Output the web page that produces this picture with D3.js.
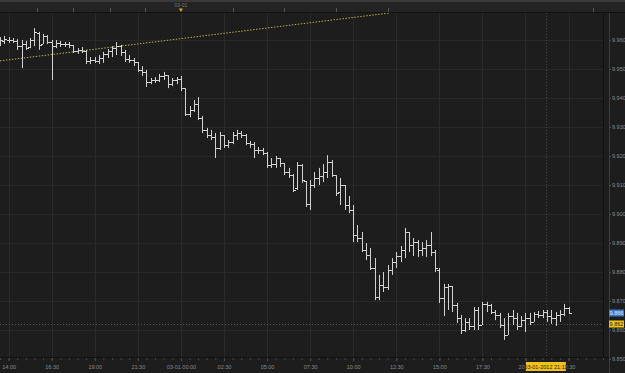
<!DOCTYPE html>
<html>
<head>
<meta charset="utf-8">
<script src="https://cdn.jsdelivr.net/npm/d3@7"></script>
<style>
body { margin: 0; background: #1d1d1d; }
svg { display: block; }
</style>
</head>
<body>
<div id="chart"></div>
<script>
var parseT = d3.timeParse("%Y-%m-%d %H:%M");

// 15 minute bars, first one at 13:30
var barStart = "2012-02-29 13:30";
var barMinutes = 15;

var highs = [9.9610,9.9614,9.9610,9.9607,9.9603,9.9600,9.9597,9.9607,9.9641,9.9628,9.9621,9.9617,9.9600,9.9600,9.9597,9.9593,9.9593,9.9583,9.9572,9.9576,
  9.9566,9.9541,9.9541,9.9548,9.9559,9.9569,9.9579,9.9593,9.9583,9.9566,9.9548,9.9538,9.9524,9.9510,9.9497,9.9469,9.9472,9.9483,9.9490,9.9479,
  9.9469,9.9472,9.9476,9.9434,9.9372,9.9393,9.9403,9.9338,9.9297,9.9290,9.9279,9.9283,9.9272,9.9255,9.9283,9.9290,9.9286,9.9276,9.9252,9.9248,
  9.9231,9.9228,9.9214,9.9193,9.9200,9.9193,9.9176,9.9159,9.9138,9.9179,9.9172,9.9114,9.9117,9.9145,9.9159,9.9172,9.9203,9.9186,9.9134,9.9124,
  9.9100,9.9062,9.9031,9.8962,9.8938,9.8900,9.8883,9.8848,9.8790,9.8800,9.8824,9.8848,9.8869,9.8890,9.8952,9.8938,9.8917,9.8910,9.8903,9.8910,
  9.8938,9.8876,9.8814,9.8759,9.8759,9.8752,9.8693,9.8652,9.8641,9.8641,9.8679,9.8679,9.8697,9.8697,9.8690,9.8669,9.8659,9.8641,9.8659,9.8669,
  9.8659,9.8648,9.8659,9.8659,9.8662,9.8666,9.8669,9.8669,9.8669,9.8662,9.8669,9.8690,9.8679];
var lows = [9.9579,9.9586,9.9590,9.9590,9.9566,9.9503,9.9566,9.9572,9.9579,9.9566,9.9586,9.9586,9.9462,9.9572,9.9576,9.9576,9.9572,9.9555,9.9552,9.9555,
  9.9517,9.9517,9.9521,9.9517,9.9521,9.9538,9.9541,9.9548,9.9545,9.9524,9.9521,9.9510,9.9490,9.9476,9.9438,9.9448,9.9452,9.9455,9.9462,9.9434,
  9.9441,9.9448,9.9424,9.9338,9.9334,9.9352,9.9324,9.9279,9.9262,9.9255,9.9193,9.9221,9.9228,9.9228,9.9241,9.9255,9.9262,9.9238,9.9228,9.9193,
  9.9207,9.9203,9.9159,9.9159,9.9159,9.9162,9.9134,9.9124,9.9076,9.9083,9.9107,9.9024,9.9014,9.9090,9.9100,9.9110,9.9124,9.9128,9.9062,9.9031,
  9.9014,9.9003,9.8903,9.8903,9.8869,9.8841,9.8807,9.8703,9.8703,9.8731,9.8738,9.8790,9.8814,9.8834,9.8848,9.8869,9.8855,9.8852,9.8855,9.8852,
  9.8855,9.8800,9.8693,9.8648,9.8669,9.8662,9.8624,9.8586,9.8593,9.8600,9.8600,9.8600,9.8617,9.8662,9.8655,9.8634,9.8607,9.8566,9.8583,9.8617,
  9.8600,9.8610,9.8593,9.8617,9.8628,9.8641,9.8641,9.8628,9.8621,9.8614,9.8628,9.8648,9.8655];
var opens = [9.9593,9.9597,9.9600,9.9600,9.9597,9.9579,9.9586,9.9576,9.9600,9.9624,9.9586,9.9614,9.9593,9.9579,9.9590,9.9586,9.9586,9.9583,9.9562,9.9566,
  9.9562,9.9528,9.9531,9.9528,9.9538,9.9552,9.9562,9.9572,9.9579,9.9559,9.9534,9.9531,9.9524,9.9497,9.9490,9.9455,9.9462,9.9462,9.9476,9.9479,
  9.9448,9.9462,9.9466,9.9434,9.9345,9.9359,9.9379,9.9331,9.9290,9.9272,9.9266,9.9228,9.9272,9.9238,9.9248,9.9272,9.9279,9.9272,9.9245,9.9241,
  9.9221,9.9221,9.9210,9.9169,9.9172,9.9193,9.9176,9.9145,9.9134,9.9090,9.9169,9.9114,9.9034,9.9100,9.9124,9.9131,9.9145,9.9179,9.9134,9.9076,
  9.9100,9.9031,9.9014,9.8928,9.8917,9.8876,9.8859,9.8814,9.8714,9.8755,9.8748,9.8807,9.8834,9.8855,9.8876,9.8938,9.8893,9.8903,9.8876,9.8883,
  9.8893,9.8869,9.8807,9.8710,9.8748,9.8752,9.8686,9.8641,9.8600,9.8628,9.8614,9.8669,9.8617,9.8690,9.8686,9.8662,9.8652,9.8617,9.8583,9.8648,
  9.8641,9.8614,9.8634,9.8641,9.8628,9.8655,9.8652,9.8662,9.8648,9.8641,9.8652,9.8655,9.8676];
var closes = [9.9600,9.9603,9.9600,9.9597,9.9579,9.9586,9.9572,9.9600,9.9628,9.9583,9.9614,9.9593,9.9579,9.9590,9.9586,9.9586,9.9583,9.9562,9.9566,9.9562,
  9.9528,9.9531,9.9528,9.9538,9.9552,9.9562,9.9572,9.9579,9.9559,9.9534,9.9531,9.9524,9.9497,9.9490,9.9455,9.9462,9.9462,9.9476,9.9479,9.9448,
  9.9462,9.9466,9.9434,9.9345,9.9359,9.9379,9.9331,9.9290,9.9272,9.9266,9.9228,9.9272,9.9238,9.9248,9.9272,9.9279,9.9272,9.9245,9.9241,9.9221,
  9.9221,9.9210,9.9169,9.9172,9.9193,9.9176,9.9145,9.9134,9.9083,9.9169,9.9117,9.9034,9.9100,9.9124,9.9131,9.9145,9.9179,9.9134,9.9072,9.9100,
  9.9031,9.9014,9.8928,9.8917,9.8876,9.8859,9.8814,9.8714,9.8755,9.8748,9.8807,9.8834,9.8855,9.8876,9.8938,9.8893,9.8903,9.8876,9.8883,9.8893,
  9.8869,9.8814,9.8710,9.8748,9.8752,9.8686,9.8641,9.8600,9.8628,9.8614,9.8669,9.8617,9.8690,9.8686,9.8662,9.8652,9.8617,9.8583,9.8648,9.8641,
  9.8614,9.8634,9.8641,9.8628,9.8655,9.8652,9.8662,9.8648,9.8641,9.8652,9.8655,9.8676,9.8660];

var xTicks = ["2012-02-29 14:00","2012-02-29 16:30","2012-02-29 19:00","2012-02-29 21:30","2012-03-01 00:00","2012-03-01 02:30","2012-03-01 05:00",
  "2012-03-01 07:30","2012-03-01 10:00","2012-03-01 12:30","2012-03-01 15:00","2012-03-01 17:30","2012-03-01 20:00","2012-03-01 22:30"];
var yTicks = [9.85,9.86,9.87,9.88,9.89,9.90,9.91,9.92,9.93,9.94,9.95,9.96];

// drawn trend line (dotted yellow)
var trendTimes = ["2012-02-29 13:30","2012-03-01 12:05"];
var trendPrices = [9.9528,9.9693];

// small markers on the top strip
var topMarks = ["2012-02-29 15:40","2012-02-29 17:45","2012-02-29 19:53","2012-02-29 21:55","2012-03-01 03:00",
  "2012-03-01 06:00","2012-03-01 09:00","2012-03-01 12:00","2012-03-01 23:55"];
var dayMark = "2012-03-01 00:00";

var lastPrice = 9.866;
var crossPrice = 9.862;
var crossTime = "2012-03-01 21:11";

var w = 625, h = 373;
var pl = 0, pr = 603, pt = 13, pb = 357;

var svg = d3.select("#chart").append("svg")
  .attr("width", w)
  .attr("height", h)
  .style("font-family", "'Liberation Sans', sans-serif");

svg.append("rect").attr("width", w).attr("height", h).attr("fill", "#1d1d1d");

var x = d3.scaleTime()
  .domain([parseT("2012-02-29 13:30"), parseT("2012-03-02 00:30")])
  .range([pl, pr]);
var y = d3.scaleLinear()
  .domain([9.85, 9.96])
  .range([359, 40]);

var bars = highs.map(function(d, i) {
  return {
    t: d3.timeMinute.offset(parseT(barStart), i * barMinutes),
    o: opens[i], h: highs[i], l: lows[i], c: closes[i]
  };
});

var cx = x(parseT(crossTime));

svg.append("clipPath").attr("id", "clip")
  .append("rect").attr("x", pl).attr("y", pt).attr("width", pr - pl).attr("height", pb - pt);

// x labels are hidden under the yellow time box, as in the original
var labClip = svg.append("clipPath").attr("id", "labclip");
labClip.append("rect").attr("x", 0).attr("y", 358).attr("width", cx - 20).attr("height", 15);
labClip.append("rect").attr("x", cx + 20).attr("y", 358).attr("width", w - cx - 20).attr("height", 15);

var plot = svg.append("g").attr("clip-path", "url(#clip)");

//grid
plot.selectAll(".vg").data(xTicks).enter().append("line")
  .attr("x1", function(d) { return Math.round(x(parseT(d))) + 0.5; })
  .attr("x2", function(d) { return Math.round(x(parseT(d))) + 0.5; })
  .attr("y1", pt).attr("y2", pb)
  .attr("stroke", "#2a2a2a");
plot.selectAll(".hg").data(yTicks).enter().append("line")
  .attr("x1", pl).attr("x2", pr)
  .attr("y1", function(d) { return Math.round(y(d)) + 0.5; })
  .attr("y2", function(d) { return Math.round(y(d)) + 0.5; })
  .attr("stroke", "#282828");

//crosshair
plot.append("line")
  .attr("x1", pl).attr("x2", pr)
  .attr("y1", Math.round(y(crossPrice)) + 0.5).attr("y2", Math.round(y(crossPrice)) + 0.5)
  .attr("stroke", "#555").attr("stroke-dasharray", "1,2");
plot.append("line")
  .attr("x1", Math.round(cx) + 0.5).attr("x2", Math.round(cx) + 0.5)
  .attr("y1", pt).attr("y2", pb)
  .attr("stroke", "#444").attr("stroke-dasharray", "1,2");

//trend line
plot.append("line")
  .attr("x1", x(parseT(trendTimes[0]))).attr("y1", y(trendPrices[0]))
  .attr("x2", x(parseT(trendTimes[1]))).attr("y2", y(trendPrices[1]))
  .attr("stroke", "#b4ae4e").attr("stroke-width", 1)
  .attr("stroke-dasharray", "1.5,1.5");

//ohlc bars
var bar = plot.selectAll(".bar").data(bars).enter().append("g").attr("class", "bar")
  .attr("stroke", "#d2d2d2").attr("stroke-width", 1);
bar.append("line")
  .attr("x1", function(d) { return Math.round(x(d.t)) + 0.5; })
  .attr("x2", function(d) { return Math.round(x(d.t)) + 0.5; })
  .attr("y1", function(d) { return y(d.h); })
  .attr("y2", function(d) { return y(d.l); });
bar.append("line")
  .attr("x1", function(d) { return Math.round(x(d.t)) - 2; })
  .attr("x2", function(d) { return Math.round(x(d.t)); })
  .attr("y1", function(d) { return Math.round(y(d.o)) + 0.5; })
  .attr("y2", function(d) { return Math.round(y(d.o)) + 0.5; });
bar.append("line")
  .attr("x1", function(d) { return Math.round(x(d.t)) + 1; })
  .attr("x2", function(d) { return Math.round(x(d.t)) + 3; })
  .attr("y1", function(d) { return Math.round(y(d.c)) + 0.5; })
  .attr("y2", function(d) { return Math.round(y(d.c)) + 0.5; });

//frame lines
svg.append("rect").attr("x", 0).attr("y", 0).attr("width", w).attr("height", 2).attr("fill", "#3a3a3a");
svg.append("rect").attr("x", 0).attr("y", 2).attr("width", w).attr("height", 10).attr("fill", "#232323");
svg.append("line").attr("x1", 0).attr("x2", w).attr("y1", 12.5).attr("y2", 12.5).attr("stroke", "#121212");
svg.append("line").attr("x1", 0).attr("x2", 609).attr("y1", 357.5).attr("y2", 357.5).attr("stroke", "#121212");
svg.append("line").attr("x1", 603.5).attr("x2", 603.5).attr("y1", 13).attr("y2", 358).attr("stroke", "#121212");
svg.append("line").attr("x1", 609.5).attr("x2", 609.5).attr("y1", 13).attr("y2", 373).attr("stroke", "#3c3c3c");

//top strip marks
svg.selectAll(".tm").data(topMarks).enter().append("line")
  .attr("x1", function(d) { return Math.round(x(parseT(d))) + 0.5; })
  .attr("x2", function(d) { return Math.round(x(parseT(d))) + 0.5; })
  .attr("y1", 8).attr("y2", 12)
  .attr("stroke", "#555");
var dx = x(parseT(dayMark));
svg.append("text").attr("x", dx).attr("y", 7)
  .attr("text-anchor", "middle").attr("font-size", "5px").attr("fill", "#7a7a7a")
  .text("03-01");
svg.append("path")
  .attr("d", "M" + (dx - 2) + ",8.5L" + (dx + 2) + ",8.5L" + dx + ",12Z")
  .attr("fill", "#d8a820");

//X axis
var fmtX = function(d) {
  return d.getHours() === 0 && d.getMinutes() === 0 ? d3.timeFormat("%m-%d %H:%M")(d) : d3.timeFormat("%H:%M")(d);
};
var xAxis = svg.append("g")
  .attr("transform", "translate(0,358)")
  .call(d3.axisBottom(x).tickValues(xTicks.map(parseT)).tickFormat(fmtX).tickSize(3).tickPadding(4));
xAxis.select(".domain").remove();
xAxis.selectAll("line").attr("stroke", "#555");
xAxis.selectAll("text").attr("fill", "#8a8a8a").attr("font-size", "5.5px").attr("font-family", "'Liberation Sans', sans-serif");
xAxis.selectAll(".tick")
  .filter(function(d) { return Math.abs(x(d) - cx) < 40; })
  .select("text")
  .attr("clip-path", function(d) { return "url(#labclip)"; })
  .attr("transform", function(d) { return "translate(0,0)"; });
// clip is in svg coords; move clip target into a root-level group
xAxis.selectAll(".tick")
  .filter(function(d) { return Math.abs(x(d) - cx) < 40; })
  .each(function(d) {
    var t = d3.select(this).select("text");
    svg.append("text")
      .attr("x", x(d)).attr("y", 358 + 7 + 4)
      .attr("dy", "0.71em")
      .attr("text-anchor", "middle")
      .attr("fill", "#8a8a8a").attr("font-size", "5.5px")
      .attr("clip-path", "url(#labclip)")
      .attr("transform", "translate(0,-4)")
      .text(t.text());
    t.remove();
  });

var xMinor = svg.append("g")
  .attr("transform", "translate(0,358)")
  .call(d3.axisBottom(x).ticks(d3.timeMinute.every(30)).tickFormat("").tickSize(2));
xMinor.select(".domain").remove();
xMinor.selectAll("line").attr("stroke", "#444");

//Y axis
var yAxis = svg.append("g")
  .attr("transform", "translate(609,0)")
  .call(d3.axisRight(y).tickValues(yTicks).tickFormat(d3.format(".3f")).tickSize(2).tickPadding(1));
yAxis.select(".domain").remove();
yAxis.selectAll("line").attr("stroke", "#555");
yAxis.selectAll("text").attr("fill", "#8a8a8a").attr("font-size", "5.5px").attr("font-family", "'Liberation Sans', sans-serif");

var yMinor = svg.append("g")
  .attr("transform", "translate(609,0)")
  .call(d3.axisRight(y).ticks(55).tickFormat("").tickSize(1));
yMinor.select(".domain").remove();
yMinor.selectAll("line").attr("stroke", "#444");

//price labels
function priceTag(p, bg, fg) {
  var yy = Math.round(y(p));
  svg.append("rect").attr("x", 609).attr("y", yy - 3.5).attr("width", 15).attr("height", 7).attr("fill", bg);
  svg.append("text").attr("x", 616.5).attr("y", yy + 2)
    .attr("text-anchor", "middle").attr("font-size", "5.5px").attr("fill", fg)
    .text(d3.format(".3f")(p));
}
priceTag(lastPrice, "#3b78c8", "#e8eef8");
priceTag(crossPrice, "#f2c21a", "#222");

//time label
svg.append("rect").attr("x", cx - 20).attr("y", 362).attr("width", 40).attr("height", 9).attr("fill", "#f2c21a");
svg.append("text").attr("x", cx).attr("y", 368.5)
  .attr("text-anchor", "middle").attr("font-size", "5.5px").attr("fill", "#222")
  .text(d3.timeFormat("%m-%d-%Y %H:%M")(parseT(crossTime)));
</script>
</body>
</html>
